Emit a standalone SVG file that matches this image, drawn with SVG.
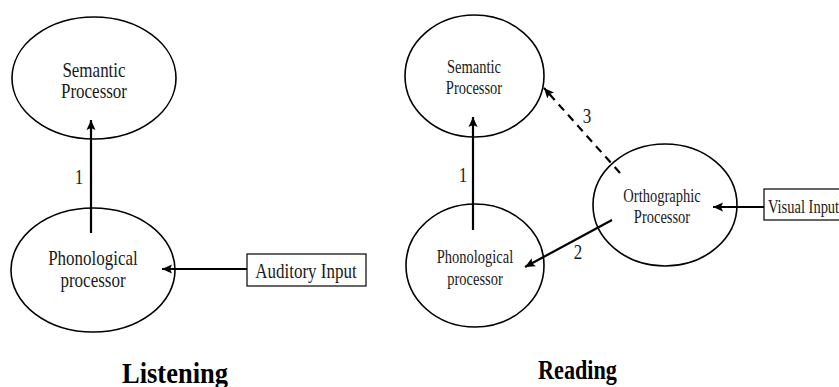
<svg xmlns="http://www.w3.org/2000/svg" width="839" height="387" viewBox="0 0 839 387">
<style>
.node ellipse{fill:#fff;stroke:#000;stroke-width:1.6}
.box{fill:#fff;stroke:#000;stroke-width:1.2}
text{font-family:"Liberation Serif","Times New Roman",serif;fill:#1a1a1a;text-anchor:middle}
.t{font-size:17px}
.s{font-size:14.5px}
.title{font-weight:bold;fill:#000}
.edge{stroke:#000;stroke-width:2.2;fill:none}
.dash{stroke-dasharray:8 6}
</style>
<defs>
<marker id="ah" markerUnits="userSpaceOnUse" markerWidth="12" markerHeight="10" refX="10" refY="5" orient="auto">
<path d="M0,0.5 L10,5 L0,9.5 L2,5 z" fill="#000"/>
</marker>
</defs>
<rect width="839" height="387" fill="#fff"/>

<g id="sem-left" class="node">
<ellipse cx="94" cy="78" rx="82" ry="61"/>
<text class="t" transform="translate(94,77) scale(1,1.2)">Semantic</text>
<text class="t" transform="translate(94,98) scale(1,1.2)">Processor</text>
</g>
<g id="phon-left" class="node">
<ellipse cx="93" cy="270" rx="82" ry="62"/>
<text class="t" transform="translate(93,265) scale(1,1.2)">Phonological</text>
<text class="t" transform="translate(93,287) scale(1,1.2)">processor</text>
</g>
<g id="auditory">
<rect class="box" x="247" y="254" width="119" height="32"/>
<text class="t" transform="translate(306,278) scale(1,1.2)">Auditory Input</text>
</g>

<g id="sem-right" class="node">
<ellipse cx="474.5" cy="76" rx="69.5" ry="61"/>
<text class="s" transform="translate(474,73) scale(1,1.25)">Semantic</text>
<text class="s" transform="translate(474,94) scale(1,1.25)">Processor</text>
</g>
<g id="phon-right" class="node">
<ellipse cx="475" cy="265.5" rx="69" ry="61.5"/>
<text class="s" transform="translate(475,263) scale(1,1.25)">Phonological</text>
<text class="s" transform="translate(475,285) scale(1,1.25)">processor</text>
</g>
<g id="ortho" class="node">
<ellipse cx="665" cy="205" rx="72" ry="61"/>
<text class="s" transform="translate(662,202) scale(1,1.25)">Orthographic</text>
<text class="s" transform="translate(662,223) scale(1,1.25)">Processor</text>
</g>
<g id="visual">
<rect class="box" x="764" y="189" width="90" height="31"/>
<text class="s" text-anchor="start" style="text-anchor:start" transform="translate(768,213) scale(1,1.3)">Visual Input</text>
</g>

<g id="connectors">
<line class="edge" x1="91" y1="233" x2="91" y2="120" marker-end="url(#ah)"/>
<line class="edge" x1="247" y1="269" x2="162" y2="269" marker-end="url(#ah)"/>
<line class="edge" x1="473" y1="230" x2="473" y2="117" marker-end="url(#ah)"/>
<line class="edge dash" x1="620" y1="173" x2="544" y2="88" marker-end="url(#ah)"/>
<line class="edge" x1="612" y1="220" x2="525" y2="267" marker-end="url(#ah)"/>
<line class="edge" x1="764" y1="207" x2="713" y2="207" marker-end="url(#ah)"/>
<text class="t" transform="translate(79,184) scale(1,1.2)">1</text>
<text class="t" transform="translate(463,182) scale(1,1.2)">1</text>
<text class="t" transform="translate(587,123) scale(1,1.2)">3</text>
<text class="t" transform="translate(578,259) scale(1,1.2)">2</text>
</g>

<g id="titles">
<text class="title" style="font-size:26.5px" transform="translate(175,383) scale(1,1.15)">Listening</text>
<text class="title" style="font-size:22.2px" transform="translate(577.5,379) scale(1,1.27)">Reading</text>
</g>
</svg>
